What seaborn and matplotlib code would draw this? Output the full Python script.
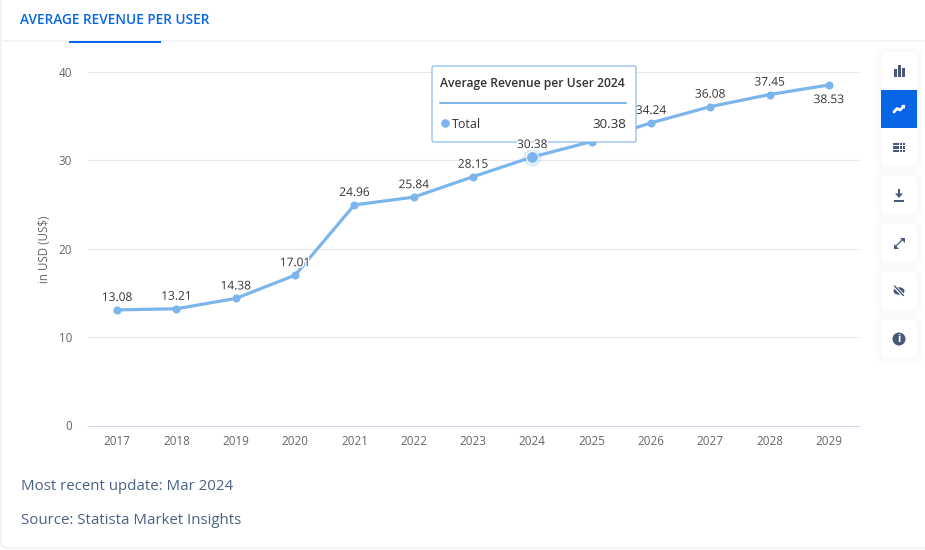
import matplotlib
matplotlib.use("Agg")
import matplotlib.pyplot as plt
import matplotlib.patheffects as pe
from matplotlib.patches import FancyBboxPatch, Rectangle, Circle, Polygon, Ellipse
import pandas as pd
import seaborn as sns

years = [2017, 2018, 2019, 2020, 2021, 2022, 2023, 2024, 2025, 2026, 2027, 2028, 2029]
revenue = [13.08, 13.21, 14.38, 17.01, 24.96, 25.84, 28.15, 30.38, 32.13, 34.24, 36.08, 37.45, 38.53]
y_ticks = [0, 10, 20, 30, 40]

title = "AVERAGE REVENUE PER USER"
y_label = "in USD (US$)"
tooltip_title = "Average Revenue per User 2024"
tooltip_series = "Total"
active_year = 2024
hidden_label_year = 2025  # sits behind the tooltip
footer_lines = ["Most recent update: Mar 2024", "Source: Statista Market Insights"]

LINE = "#7cb5ec"
BLUE = "#0666e6"
ICON = "#46597a"
GREY = "#666666"
DARK = "#333333"

sns.set_theme(style="white")
plt.rcParams["font.family"] = ["Open Sans", "DejaVu Sans"]

df = pd.DataFrame({"year": years, "revenue": revenue})

fig = plt.figure(figsize=(9.25, 5.5), dpi=100, facecolor="white")

# page furniture goes on a full size axes in pixel coordinates
bg = fig.add_axes([0, 0, 1, 1], zorder=0)
bg.set_xlim(0, 925)
bg.set_ylim(550, 0)
bg.axis("off")

bg.add_patch(FancyBboxPatch((1, -20), 960, 568, boxstyle="round,pad=0,rounding_size=7",
                            fc="white", ec="#e9edf3", lw=1))
bg.add_patch(Rectangle((1.5, 40), 923, 2, fc="#f1f5f9", ec="none"))
bg.add_patch(Rectangle((69, 40.5), 92, 2, fc=BLUE, ec="none"))
bg.text(20, 20.5, title, color=BLUE, fontsize=9.85, fontweight=600, va="center", ha="left")
bg.text(21, 486, footer_lines[0], color="#4a6285", fontsize=10.8, va="center")
bg.text(21, 520, footer_lines[1], color="#4a6285", fontsize=10.8, va="center")


def button(y0, y1):
    # soft shadow as a few see-through layers, then the white card
    for grow in (6, 4, 2):
        bg.add_patch(FancyBboxPatch((881 - grow, y0 - grow), 36 + 2 * grow, y1 - y0 + 2 * grow,
                                    boxstyle=f"round,pad=0,rounding_size={4 + grow}",
                                    fc="#5a6b8c", alpha=0.012, ec="none"))
    bg.add_patch(FancyBboxPatch((881, y0), 36, y1 - y0, boxstyle="round,pad=0,rounding_size=4",
                                fc="white", ec="none"))


button(52, 166)
button(176, 214)
button(224, 262)
button(272, 310)
button(320, 358)
bg.add_patch(Rectangle((881, 90), 36, 38, fc=BLUE, ec="none"))

# bar icon
bg.add_patch(Rectangle((893.5, 69), 3, 8, fc=ICON, ec="none"))
bg.add_patch(Rectangle((897.5, 65), 3, 12, fc=ICON, ec="none"))
bg.add_patch(Rectangle((901.5, 68), 3, 9, fc=ICON, ec="none"))
# line icon
bg.plot([894, 897, 900, 904], [112, 108.5, 110, 106], color="white", lw=2)
bg.add_patch(Polygon([[901, 105], [905, 105], [905, 109]], fc="white", ec="none"))
# table icon
for row in range(3):
    bg.add_patch(Rectangle((893, 142.5 + row * 3.5), 6, 2.6, fc=ICON, ec="none"))
    for col in range(2):
        bg.add_patch(Rectangle((900 + col * 2.8, 142.5 + row * 3.5), 2, 2.6, fc=ICON, ec="none"))
# download icon
bg.add_patch(Rectangle((897.6, 189), 2.6, 5, fc=ICON, ec="none"))
bg.add_patch(Polygon([[895, 193.5], [903, 193.5], [899, 198]], fc=ICON, ec="none"))
bg.add_patch(Rectangle((894, 199.5), 10, 2, fc=ICON, ec="none"))
# expand icon
bg.plot([896, 902], [246, 240], color=ICON, lw=0.9)
bg.add_patch(Polygon([[899.5, 237.5], [904.5, 237.5], [904.5, 242.5]], fc=ICON, ec="none"))
bg.add_patch(Polygon([[893.5, 243.5], [893.5, 248.5], [898.5, 248.5]], fc=ICON, ec="none"))
# hidden eye icon
bg.add_patch(Ellipse((899, 291), 11, 7.5, fc=ICON, ec="none"))
bg.plot([894, 904], [286, 296], color="white", lw=2.4)
bg.plot([894.5, 903.5], [286, 295.5], color=ICON, lw=1)
# info icon
bg.add_patch(Circle((899, 339), 6.5, fc=ICON, ec="none"))
bg.text(899, 339, "i", color="white", fontsize=8, fontweight="bold", ha="center", va="center")

# chart area, y=0 at 425px and y=40 at 71.5px
ax = fig.add_axes([87.5 / 925, 124.5 / 550, 771 / 925, 353.5 / 550], zorder=1)
ax.patch.set_alpha(0)
sns.lineplot(data=df, x="year", y="revenue", ax=ax, color=LINE, linewidth=2.3,
             marker="o", markersize=5.8, markeredgecolor=LINE, markeredgewidth=0,
             errorbar=None, zorder=3, clip_on=False)
ax.set_xlim(years[0] - 0.5, years[-1] + 0.5)
ax.set_ylim(y_ticks[0], y_ticks[-1])
ax.set_xticks(years)
ax.set_yticks(y_ticks)
ax.set_xlabel("")
ax.set_ylabel("")
ax.grid(axis="y", color="#e6e6e6", linewidth=0.75)
ax.set_axisbelow(True)
sns.despine(ax=ax, left=True, top=True, right=True)
ax.spines["bottom"].set_color("#ccd6eb")
ax.spines["bottom"].set_linewidth(0.75)
ax.tick_params(axis="x", length=0, pad=7, labelsize=8.4, labelcolor=GREY)
ax.tick_params(axis="y", length=0, pad=11, labelsize=8.4, labelcolor=GREY)
bg.text(44, 249, y_label, color=GREY, fontsize=8.3, rotation=90, ha="center", va="center")

halo = [pe.withStroke(linewidth=2.2, foreground="white")]
for yr, val in zip(years, revenue):
    if yr == hidden_label_year:
        continue
    below = yr == years[-1]
    ax.annotate(f"{val:.2f}", (yr, val), xytext=(0, -10.5 if below else 9),
                textcoords="offset points", ha="center", va="center", fontsize=8.6,
                color=DARK, path_effects=halo,
                zorder=7 if yr == active_year else 4, annotation_clip=False)

# hover state of the active point
active_val = revenue[years.index(active_year)]
ax.scatter([active_year], [active_val], s=170, color=LINE, alpha=0.25, linewidths=0, zorder=4, clip_on=False)
ax.scatter([active_year], [active_val], s=72, color=LINE, edgecolors="white", linewidths=0.6, zorder=4.5, clip_on=False)

# tooltip, positioned in pixels through the background axes
px = bg.transData
ax.add_patch(FancyBboxPatch((432, 66), 204, 76, boxstyle="round,pad=0,rounding_size=2", transform=px,
                            fc="white", ec=LINE, lw=0.8, zorder=6, clip_on=False))
ax.plot([440, 626], [103, 103], transform=px, color=LINE, lw=1.4, zorder=6.5, clip_on=False, scalex=False, scaley=False)
ax.scatter([445], [123], s=38, color=LINE, linewidths=0, transform=px, zorder=6.5, clip_on=False)
ax.text(440, 84, tooltip_title, transform=px, color=DARK, fontsize=8.75, fontweight=600, va="center", zorder=6.5)
ax.text(452, 124, tooltip_series, transform=px, color=DARK, fontsize=9, va="center", zorder=6.5)
ax.text(626, 124, f"{active_val:.2f}", transform=px, color=DARK, fontsize=9.6, ha="right", va="center", zorder=6.5)

fig.savefig("out.png", dpi=100)
